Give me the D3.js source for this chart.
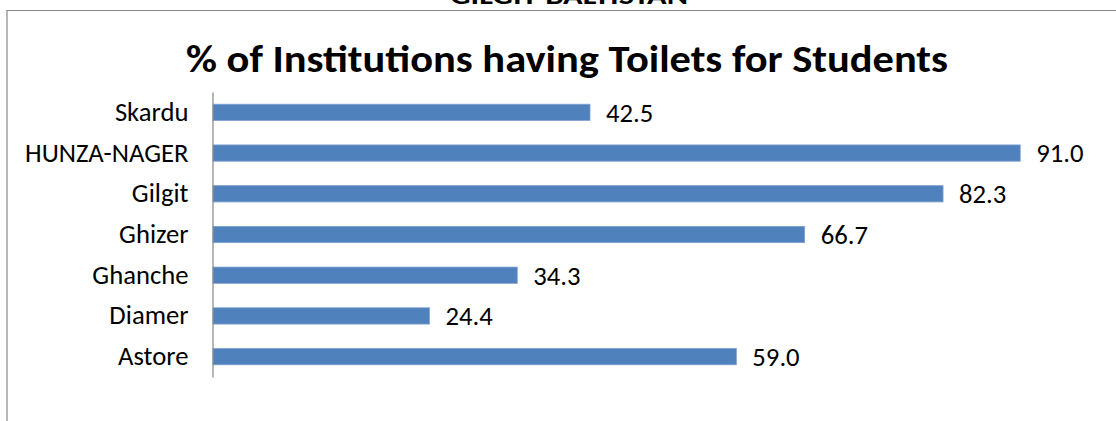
<!DOCTYPE html>
<html><head><meta charset="utf-8">
<script src="https://cdn.jsdelivr.net/npm/d3@7"></script>
<style>body{margin:0;background:#fff;overflow:hidden}</style>
</head><body>
<script>
const categories = ["Skardu","HUNZA-NAGER","Gilgit","Ghizer","Ghanche","Diamer","Astore"];
const values = [42.5, 91.0, 82.3, 66.7, 34.3, 24.4, 59.0];
const title = "% of Institutions having Toilets for Students";
const supTitle = "GILGIT-BALTISTAN";

const W = 1116, H = 421;
const svg = d3.select("body").append("svg").attr("width", W).attr("height", H);
const font = "Carlito, 'Open Sans', 'Noto Sans', sans-serif";

// frame
svg.append("line").attr("x1",7).attr("x2",W).attr("y1",10.5).attr("y2",10.5).attr("stroke","#868686").attr("stroke-width",1.2);
svg.append("line").attr("x1",7).attr("x2",7).attr("y1",10).attr("y2",H).attr("stroke","#868686").attr("stroke-width",1.2);

// clipped header
svg.append("text").attr("x",569).attr("y",4).attr("text-anchor","middle")
  .attr("font-family",font).attr("font-weight","bold").attr("font-size",24)
  .attr("textLength",238).attr("lengthAdjust","spacingAndGlyphs").text(supTitle);

svg.append("text").attr("x",567).attr("y",72).attr("text-anchor","middle")
  .attr("font-family",font).attr("font-weight","bold").attr("font-size",37.3)
  .attr("textLength",762).attr("lengthAdjust","spacingAndGlyphs").text(title);

const x0 = 213;
const x = d3.scaleLinear().domain([0, 42.5]).range([x0, 590]);
const y = d3.scaleBand().domain(categories).range([92, 377]).paddingInner(0.6).paddingOuter(0.3);

const g = svg.append("g");
g.selectAll("rect").data(categories).join("rect")
  .attr("x", x0).attr("y", d => y(d))
  .attr("width", (d,i) => x(values[i]) - x0).attr("height", y.bandwidth())
  .attr("fill","#4F81BD").attr("stroke","#7FA1CF").attr("stroke-width",0.8);

g.selectAll("text.val").data(categories).join("text").attr("class","val")
  .attr("x", (d,i) => x(values[i]) + 16).attr("y", d => y(d) + y.bandwidth()/2)
  .attr("dy","0.35em").attr("font-family",font).attr("font-size",26.67).attr("fill","#000")
  .text((d,i) => values[i].toFixed(1));

const yAxis = d3.axisLeft(y).tickSize(0).tickPadding(24);
const ax = svg.append("g").attr("transform",`translate(${x0-0.5},0)`).call(yAxis);
ax.select(".domain").attr("stroke","#868686").attr("stroke-width",1.2);
ax.selectAll("text").attr("font-family",font).attr("font-size",26.67).attr("fill","#000");
</script>
</body></html>
